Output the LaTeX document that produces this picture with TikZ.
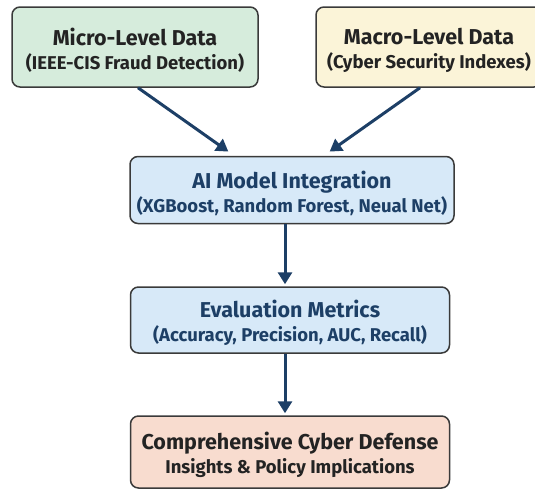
\documentclass[tikz,border=0pt]{standalone}
\usepackage{fontspec}
\setmainfont{Fira Sans}
\usetikzlibrary{arrows.meta}

\definecolor{navy}{HTML}{1D3F66}
\definecolor{edgegray}{HTML}{3A3A3A}
\definecolor{microfill}{HTML}{D6ECDC}
\definecolor{macrofill}{HTML}{FBF4D8}
\definecolor{modelfill}{HTML}{D7E9F8}
\definecolor{defensefill}{HTML}{F8DCCF}
\definecolor{darktext}{HTML}{232323}

\newcommand{\boxtitle}[2]{\rule{0pt}{24pt}#1\\[1pt]{\fontsize{18.5}{23}\selectfont #2}}

\begin{document}
\begin{tikzpicture}[x=1pt, y=-1pt, >={Triangle[length=12pt,width=14pt]},
  box/.style={draw=edgegray, line width=1.5pt, rounded corners=8pt,
    align=center, inner sep=0pt, font=\bfseries\fontsize{21.5}{23}\selectfont},
  flow/.style={->, navy, line width=3pt, shorten >=2pt}]
  % Fix the page to the reference size
  \path[use as bounding box, clip] (0,0) rectangle (535,490);

  % Draw the two data sources
  \node[box, fill=microfill, text=darktext, minimum width=246pt, minimum height=80pt] (micro) at (135,47)
    {\boxtitle{Micro-Level Data}{(IEEE-CIS Fraud Detection)}};
  \node[box, fill=macrofill, text=darktext, minimum width=226pt, minimum height=80pt] (macro) at (429,47)
    {\boxtitle{Macro-Level Data}{(Cyber Security Indexes)}};

  % Draw the model and evaluation boxes
  \node[box, fill=modelfill, text=navy, minimum width=324pt, minimum height=67pt] (model) at (292,190)
    {\boxtitle{AI Model Integration}{(XGBoost, Random Forest, Neual Net)}};
  \node[box, fill=modelfill, text=navy, minimum width=319pt, minimum height=66pt] (metrics) at (290,320)
    {\boxtitle{Evaluation Metrics}{(Accuracy, Precision, AUC, Recall)}};

  % Draw the outcome box
  \node[box, fill=defensefill, text=darktext, minimum width=319pt, minimum height=72pt] (defense) at (290,452)
    {\boxtitle{Comprehensive Cyber Defense}{Insights \& Policy Implications}};

  % Draw the arrows
  \draw[flow] ([xshift=3pt]micro.south) -- ([xshift=-62pt, yshift=3pt]model.north);
  \draw[flow] ([xshift=-9pt]macro.south) -- ([xshift=36pt, yshift=3pt]model.north);
  \draw[flow] ([xshift=-7pt]model.south) -- ([xshift=-5pt]metrics.north);
  \draw[flow] ([xshift=-5pt]metrics.south) -- ([xshift=-5pt]defense.north);
\end{tikzpicture}
\end{document}
